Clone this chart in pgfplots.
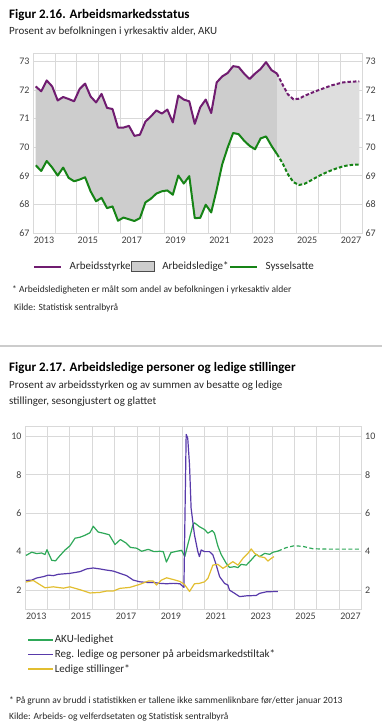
\documentclass[border=0pt]{standalone}
\usepackage{fontspec}
\setmainfont{Carlito}
\usepackage{pgfplots}
\pgfplotsset{compat=1.18}
\usepackage{pgfplotstable}
\usepgfplotslibrary{fillbetween}

\definecolor{pur}{RGB}{112,28,112}
\definecolor{grn}{RGB}{22,132,22}
\definecolor{fillA}{RGB}{205,205,205}
\definecolor{fillB}{RGB}{222,222,222}
\definecolor{gridc}{RGB}{217,217,217}
\definecolor{gtwo}{RGB}{46,168,88}
\definecolor{ptwo}{RGB}{88,58,170}
\definecolor{ytwo}{RGB}{226,190,48}
\definecolor{txt}{RGB}{64,64,64}

% ---- Figure 2.16 data (x = years from left edge, quarterly) ----
\pgfplotstableread{
x y
0.125 72.13
0.375 71.96
0.625 72.34
0.875 72.13
1.125 71.64
1.375 71.76
1.625 71.69
1.875 71.61
2.125 72.04
2.375 72.23
2.625 71.78
2.875 71.57
3.125 71.87
3.375 71.38
3.625 71.34
3.875 70.69
4.125 70.69
4.375 70.75
4.625 70.40
4.875 70.44
5.125 70.90
5.375 71.08
5.625 71.29
5.875 71.18
6.125 71.32
6.375 70.87
6.625 71.81
6.875 71.67
7.125 71.61
7.375 70.82
7.625 71.40
7.875 71.67
8.125 71.20
8.375 72.27
8.625 72.48
8.875 72.60
9.125 72.84
9.375 72.81
9.625 72.58
9.875 72.39
10.125 72.58
10.375 72.74
10.625 72.98
10.875 72.70
11.125 72.58
}\purA
\pgfplotstableread{
x y
11.125 72.58
11.375 72.20
11.625 71.85
11.875 71.68
12.125 71.70
12.375 71.80
12.625 71.88
12.875 71.96
13.125 72.03
13.375 72.10
13.625 72.17
13.875 72.22
14.125 72.27
14.375 72.29
14.625 72.30
14.875 72.31
}\purB
\pgfplotstableread{
x y
0.125 69.37
0.375 69.17
0.625 69.52
0.875 69.29
1.125 69.01
1.375 69.29
1.625 68.93
1.875 68.81
2.125 68.87
2.375 68.95
2.625 68.46
2.875 68.11
3.125 68.23
3.375 67.87
3.625 67.93
3.875 67.43
4.125 67.54
4.375 67.48
4.625 67.42
4.875 67.52
5.125 68.07
5.375 68.20
5.625 68.38
5.875 68.46
6.125 68.49
6.375 68.34
6.625 69.01
6.875 68.73
7.125 68.99
7.375 67.52
7.625 67.53
7.875 67.99
8.125 67.72
8.375 68.52
8.625 69.40
8.875 69.99
9.125 70.50
9.375 70.46
9.625 70.23
9.875 70.05
10.125 69.93
10.375 70.31
10.625 70.38
10.875 70.05
11.125 69.76
}\grnA
\pgfplotstableread{
x y
11.125 69.76
11.375 69.45
11.625 69.05
11.875 68.78
12.125 68.68
12.375 68.72
12.625 68.82
12.875 68.93
13.125 69.03
13.375 69.12
13.625 69.20
13.875 69.27
14.125 69.33
14.375 69.37
14.625 69.39
14.875 69.39
}\grnB

% ---- Figure 2.17 data ----
\pgfplotstableread{
x y
0.04 3.80
0.30 3.97
0.52 3.90
0.74 3.93
0.89 3.85
0.98 4.10
1.19 3.55
1.36 3.52
1.50 3.72
1.78 4.08
2.00 4.30
2.23 4.70
2.45 4.75
2.67 4.85
2.89 4.98
3.04 5.32
3.26 5.02
3.49 4.96
3.75 4.88
4.01 4.37
4.25 4.63
4.50 4.45
4.70 4.22
4.97 4.18
5.20 4.02
5.49 4.12
5.75 4.00
6.01 4.02
6.16 4.00
6.30 3.46
6.50 3.95
6.76 4.02
6.98 4.07
7.12 3.74
7.25 4.35
7.48 5.39
7.55 5.50
7.77 5.30
8.00 5.15
8.15 4.96
8.34 5.10
8.44 4.96
8.59 4.30
8.74 3.85
8.96 3.40
9.11 3.18
9.34 3.22
9.49 3.17
9.63 3.34
9.86 3.30
10.08 3.57
10.30 3.86
10.45 3.74
10.68 3.91
10.90 3.86
11.05 3.97
11.27 4.03
}\akuA
\pgfplotstableread{
x y
11.27 4.03
11.64 4.21
12.01 4.31
12.39 4.27
12.83 4.15
13.50 4.13
14.90 4.13
}\akuB
\pgfplotstableread{
x y
0.04 2.50
0.30 2.52
0.52 2.63
0.82 2.70
1.04 2.78
1.26 2.75
1.48 2.82
2.00 2.87
2.45 2.96
2.74 3.10
3.04 3.15
3.34 3.10
3.63 3.04
3.93 2.99
4.23 2.87
4.53 2.75
4.82 2.52
5.12 2.43
5.42 2.40
5.71 2.40
6.01 2.35
6.31 2.33
6.60 2.35
6.90 2.33
7.08 2.14
7.18 10.10
7.25 9.90
7.33 8.50
7.40 6.26
7.55 4.87
7.70 4.00
7.77 3.74
7.85 4.09
8.00 4.00
8.22 4.00
8.37 3.83
8.52 3.30
8.67 2.70
8.89 2.35
9.04 2.26
9.11 2.00
9.34 1.83
9.56 1.66
9.86 1.70
10.30 1.72
10.45 1.83
10.75 1.91
11.27 1.93
}\reg
\pgfplotstableread{
x y
0.04 2.42
0.37 2.50
0.67 2.28
0.89 2.12
1.26 2.17
1.71 2.10
2.00 2.17
2.45 2.02
2.89 1.85
3.34 1.88
3.63 1.95
3.93 1.95
4.23 2.09
4.67 2.14
5.12 2.30
5.49 2.47
5.71 2.47
5.86 2.26
6.08 2.52
6.31 2.64
6.60 2.55
6.90 2.45
7.10 2.30
7.33 1.93
7.55 2.33
7.77 2.35
8.00 2.43
8.15 2.61
8.37 3.30
8.59 3.34
8.82 3.13
9.04 3.30
9.26 3.48
9.49 3.30
9.71 3.65
9.93 3.91
10.08 4.14
10.23 3.91
10.45 3.74
10.68 3.69
10.82 3.51
10.97 3.65
11.09 3.74
}\vac

\pgfplotsset{
  chartbase/.style={
    scale only axis,
    xmin=0, xmax=15,
    xtick={0.5,2.5,...,14.5},
    xticklabels={2013,2015,2017,2019,2021,2023,2025,2027},
    minor xtick={0,1,...,15},
    xminorgrids, ymajorgrids,
    grid style={draw=gridc, line width=0.8pt},
    minor grid style={draw=gridc, line width=0.8pt},
    major tick length=0pt, minor tick length=0pt,
    axis line style={draw=gridc, line width=0.8pt},
    tick label style={font=\fontsize{10}{12}\selectfont, text=txt},
    /pgf/number format/assume math mode=true,
  },
  rightlabels/.style={
    scale only axis,
    xmin=0, xmax=15,
    hide x axis,
    axis y line*=right,
    axis line style={draw=none},
    major tick length=0pt,
    tick label style={font=\fontsize{10}{12}\selectfont, text=txt},
    /pgf/number format/assume math mode=true,
  },
}

\begin{document}
\begin{tikzpicture}

% ---------- Figure 2.16 ----------
\node[anchor=base west, inner sep=0pt, font=\bfseries\fontsize{13}{15}\selectfont] at (9pt,-18.5pt) {Figur 2.16. Arbeidsmarkedsstatus};
\node[anchor=base west, inner sep=0pt, font=\fontsize{11}{13}\selectfont, text=black!85] at (9pt,-34.5pt) {Prosent av befolkningen i yrkesaktiv alder, AKU};

\begin{axis}[chartbase,
  at={(33pt,-233pt)}, anchor=south west, width=329pt, height=180pt,
  ymin=67, ymax=73.3, ytick={67,68,...,73},
  set layers,
  legend columns=3,
  legend style={at={(0,-0.187)}, anchor=west, draw=none, fill=none, inner sep=0pt,
    font=\fontsize{11}{13}\selectfont, text=black!85,
    nodes={inner sep=0.5pt},
    /tikz/every odd column/.append style={column sep=7pt}},
  legend image code/.code={\draw[#1, line width=2pt] (0pt,0pt) -- (27pt,0pt);},
]
\addplot[name path=pa, pur, line width=2pt, line join=round, forget plot] table {\purA};
\addplot[name path=ga, grn, line width=2pt, line join=round, forget plot] table {\grnA};
\addplot[name path=pb, pur, line width=2pt, dash pattern=on 3.5pt off 2pt, forget plot] table {\purB};
\addplot[name path=gb, grn, line width=2pt, dash pattern=on 3.5pt off 2pt, forget plot] table {\grnB};
\addplot[fill=fillA, draw=none, forget plot] fill between[of=pa and ga];
\addplot[fill=fillB, draw=none, forget plot] fill between[of=pb and gb];
\addlegendimage{pur}
\addlegendentry{Arbeidsstyrke}
\addlegendimage{legend image code/.code={\draw[fill=fillA, draw=black!70, line width=0.7pt] (0pt,-5pt) rectangle (23pt,5pt);}}
\addlegendentry{Arbeidsledige*}
\addlegendimage{grn}
\addlegendentry{Sysselsatte}
\end{axis}
\begin{axis}[rightlabels,
  at={(33pt,-233pt)}, anchor=south west, width=329pt, height=180pt,
  ymin=67, ymax=73.3, ytick={67,68,...,73}]
\addplot[draw=none, forget plot] table {\purA};
\end{axis}

\node[anchor=base west, inner sep=0pt, font=\fontsize{9.5}{11}\selectfont, text=black!85] at (12pt,-292pt) {* Arbeidsledigheten er målt som andel av befolkningen i yrkesaktiv alder};
\node[anchor=base west, inner sep=0pt, font=\fontsize{9.5}{11}\selectfont, text=black!85] at (14pt,-310pt) {Kilde: Statistisk sentralbyrå};

\draw[draw=black!20, line width=1.2pt] (0pt,-346pt) -- (382pt,-346pt);

% ---------- Figure 2.17 ----------
\node[anchor=base west, inner sep=0pt, font=\bfseries\fontsize{13}{15}\selectfont] at (9pt,-371pt) {Figur 2.17. Arbeidsledige personer og ledige stillinger};
\node[anchor=base west, inner sep=0pt, font=\fontsize{11}{13}\selectfont, text=black!85] at (9pt,-388pt) {Prosent av arbeidsstyrken og av summen av besatte og ledige};
\node[anchor=base west, inner sep=0pt, font=\fontsize{11}{13}\selectfont, text=black!85] at (9pt,-404.5pt) {stillinger, sesongjustert og glattet};

\begin{axis}[chartbase,
  at={(25pt,-609.3pt)}, anchor=south west, width=336.7pt, height=182.6pt,
  ymin=1, ymax=10.5, ytick={2,4,...,10},
  legend columns=1, legend cell align=left,
  legend style={at={(0.006,-0.135)}, anchor=north west, draw=none, fill=none, inner sep=0pt,
    font=\fontsize{11}{13}\selectfont, text=black!85,
    nodes={inner sep=1pt}, row sep=3.5pt},
  legend image code/.code={\draw[#1, line width=1.6pt] (0pt,0pt) -- (25pt,0pt);},
]
\addplot[gtwo, line width=1.2pt, line join=round, forget plot] table {\akuA};
\addplot[ptwo, line width=1.2pt, line join=round, forget plot] table {\reg};
\addplot[ytwo, line width=1.2pt, line join=round, forget plot] table {\vac};
\addplot[gtwo, line width=1.2pt, dash pattern=on 4pt off 2.5pt, forget plot] table {\akuB};
\addlegendimage{draw=gtwo}
\addlegendentry{AKU-ledighet}
\addlegendimage{draw=ptwo}
\addlegendentry{Reg. ledige og personer på arbeidsmarkedstiltak*}
\addlegendimage{draw=ytwo}
\addlegendentry{Ledige stillinger*}
\end{axis}
\begin{axis}[rightlabels,
  at={(25pt,-609.3pt)}, anchor=south west, width=336.7pt, height=182.6pt,
  ymin=1, ymax=10.5, ytick={2,4,...,10}]
\addplot[draw=none, forget plot] table {\akuA};
\end{axis}

\node[anchor=base west, inner sep=0pt, font=\fontsize{9.5}{11}\selectfont, text=black!85] at (9pt,-703pt) {* På grunn av brudd i statistikken er tallene ikke sammenliknbare før/etter januar 2013};
\node[anchor=base west, inner sep=0pt, font=\fontsize{9.5}{11}\selectfont, text=black!85] at (9pt,-719pt) {Kilde: Arbeids- og velferdsetaten og Statistisk sentralbyrå};

\pgfresetboundingbox
\path[use as bounding box] (0pt,0pt) rectangle (382pt,-728pt);
\end{tikzpicture}
\end{document}
